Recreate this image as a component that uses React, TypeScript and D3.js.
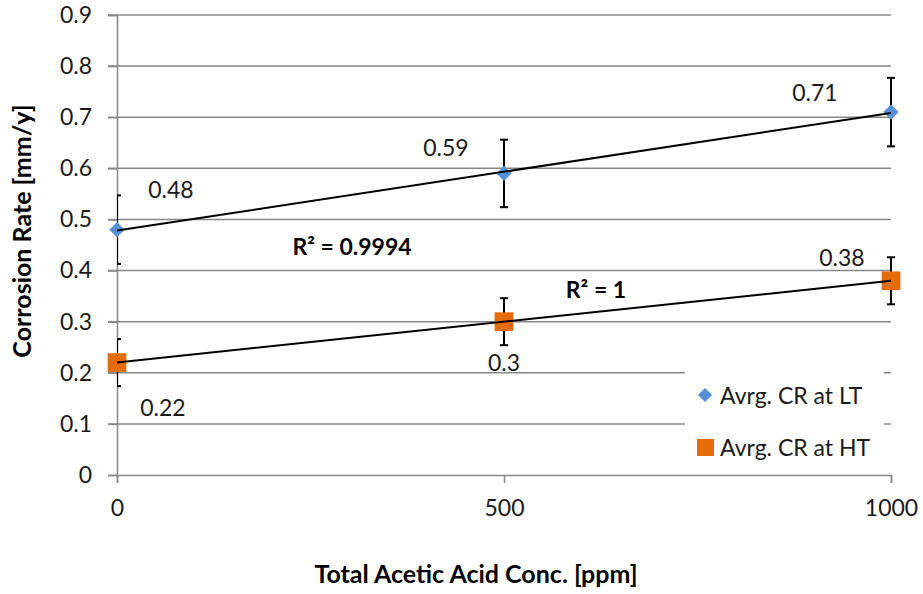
import React, { useEffect, useRef } from 'react';
import * as d3 from 'd3';

const concentrations = [0, 500, 1000];
const crLow = [0.48, 0.59, 0.71];
const crHigh = [0.22, 0.3, 0.38];
const errLow = [0.067, 0.066, 0.067];
const errHigh = [0.046, 0.046, 0.046];
const yTicks = [0, 0.1, 0.2, 0.3, 0.4, 0.5, 0.6, 0.7, 0.8, 0.9];
const xTicks = [0, 500, 1000];
const seriesNames = ['Avrg. CR at LT', 'Avrg. CR at HT'];

const FONT = 'Lato, "Liberation Sans", sans-serif';

const fitLine = (xs: number[], ys: number[]) => {
    const mx = d3.mean(xs) as number;
    const my = d3.mean(ys) as number;
    const num = d3.sum(xs.map((x, i) => (x - mx) * (ys[i] - my)));
    const den = d3.sum(xs.map(x => (x - mx) ** 2));
    const slope = num / den;
    return (x: number) => my + slope * (x - mx);
};

const App = () => {
    const ref = useRef<SVGSVGElement>(null);

    useEffect(() => {
        const svg = d3.select(ref.current);
        svg.selectAll('*').remove();

        const x = d3.scaleLinear().domain([0, 1000]).range([117, 891]);
        const y = d3.scaleLinear().domain([0, 0.9]).range([475, 15]);
        const grid = '#878787';

        // clip so the left error caps are cut at the axis like the original
        svg.append('defs').append('clipPath').attr('id', 'plotclip')
            .append('rect').attr('x', 117).attr('y', 0).attr('width', 806).attr('height', 594);

        // horizontal gridlines
        svg.append('g').selectAll('line')
            .data(yTicks.slice(1))
            .enter().append('line')
            .attr('x1', 108).attr('x2', 891)
            .attr('y1', d => y(d)).attr('y2', d => y(d))
            .attr('stroke', grid).attr('stroke-width', 1.5);

        // y axis
        const yAxis = d3.axisLeft(y).tickValues(yTicks).tickSize(9)
            .tickFormat(d => String(+d));
        const gy = svg.append('g').attr('transform', 'translate(117,0)').call(yAxis);
        gy.select('.domain').attr('stroke', grid).attr('stroke-width', 1.5);
        gy.selectAll('.tick line').attr('stroke', grid).attr('stroke-width', 1.5);
        gy.selectAll('.tick text').attr('font-family', FONT).attr('font-size', 23)
            .attr('fill', '#1a1a1a').attr('x', -25);

        // x axis
        const xAxis = d3.axisBottom(x).tickValues(xTicks).tickSize(8)
            .tickFormat(d => String(d));
        const gx = svg.append('g').attr('transform', 'translate(0,475)').call(xAxis);
        gx.select('.domain').attr('stroke', grid).attr('stroke-width', 1.5);
        gx.selectAll('.tick line').attr('stroke', grid).attr('stroke-width', 1.5);
        gx.selectAll('.tick text').attr('font-family', FONT).attr('font-size', 23)
            .attr('fill', '#1a1a1a').attr('y', 25);

        // legend box (white, hides gridlines behind it)
        const legend = svg.append('g');
        legend.append('rect').attr('x', 685).attr('y', 364).attr('width', 199).attr('height', 110)
            .attr('fill', '#fff');

        const clipped = svg.append('g').attr('clip-path', 'url(#plotclip)');
        const plot = svg.append('g');

        const series = [
            { vals: crLow, err: errLow, color: '#5690D8', shape: 'diamond' },
            { vals: crHigh, err: errHigh, color: '#E46C0A', shape: 'square' }
        ];

        series.forEach(s => {
            const f = fitLine(concentrations, s.vals);

            const eb = clipped.append('g').selectAll('g')
                .data(concentrations.map((c, i) => ({ c, v: s.vals[i], e: s.err[i] })))
                .enter().append('g');
            eb.append('line')
                .attr('x1', d => x(d.c)).attr('x2', d => x(d.c))
                .attr('y1', d => y(d.v + d.e)).attr('y2', d => y(d.v - d.e))
                .attr('stroke', '#000').attr('stroke-width', 2);
            [1, -1].forEach(sign => {
                eb.append('line')
                    .attr('x1', d => x(d.c) - 4).attr('x2', d => x(d.c) + 4)
                    .attr('y1', d => y(d.v + sign * d.e)).attr('y2', d => y(d.v + sign * d.e))
                    .attr('stroke', '#000').attr('stroke-width', 2);
            });

            const sym = s.shape === 'diamond'
                ? d3.symbol().type(d3.symbolDiamond2).size(150)
                : d3.symbol().type(d3.symbolSquare).size(350);
            plot.append('g').selectAll('path')
                .data(concentrations.map((c, i) => ({ c, v: s.vals[i] })))
                .enter().append('path')
                .attr('d', sym)
                .attr('transform', d => `translate(${x(d.c)},${y(d.v)})`)
                .attr('fill', s.color);

            // linear trendline on top of the markers
            plot.append('line')
                .attr('x1', x(0)).attr('x2', x(1000))
                .attr('y1', y(f(0))).attr('y2', y(f(1000)))
                .attr('stroke', '#000').attr('stroke-width', 2);
        });

        // data labels
        const labelPos = [
            [[54, -41], [-58, -26], [-76, -20]],
            [[46, 44], [0, 40], [-49, -24]]
        ];
        [crLow, crHigh].forEach((vals, si) => {
            svg.append('g').selectAll('text')
                .data(vals)
                .enter().append('text')
                .attr('x', (d, i) => x(concentrations[i]) + labelPos[si][i][0])
                .attr('y', (d, i) => y(d) + labelPos[si][i][1])
                .attr('text-anchor', 'middle').attr('dominant-baseline', 'central')
                .attr('font-family', FONT).attr('font-size', 23).attr('fill', '#1a1a1a')
                .text(d => String(d));
        });

        // R² labels
        svg.append('text').attr('x', 352).attr('y', 246)
            .attr('text-anchor', 'middle').attr('dominant-baseline', 'central')
            .attr('font-family', FONT).attr('font-size', 23).attr('font-weight', 'bold')
            .text('R² = 0.9994');
        svg.append('text').attr('x', 596).attr('y', 289)
            .attr('text-anchor', 'middle').attr('dominant-baseline', 'central')
            .attr('font-family', FONT).attr('font-size', 23).attr('font-weight', 'bold')
            .text('R² = 1');

        // legend entries
        legend.append('path').attr('d', d3.symbol().type(d3.symbolDiamond2).size(128))
            .attr('transform', 'translate(705,395)').attr('fill', '#5690D8');
        legend.append('rect').attr('x', 697).attr('y', 439).attr('width', 17).attr('height', 17)
            .attr('fill', '#E46C0A');
        legend.selectAll('text.lg')
            .data(seriesNames)
            .enter().append('text')
            .attr('class', 'lg')
            .attr('x', 720).attr('y', (d, i) => 395 + i * 52)
            .attr('dominant-baseline', 'central')
            .attr('font-family', FONT).attr('font-size', 23).attr('fill', '#1a1a1a')
            .text(d => d);

        // axis titles
        svg.append('text').attr('x', 476).attr('y', 583)
            .attr('text-anchor', 'middle')
            .attr('font-family', FONT).attr('font-size', 25).attr('font-weight', 'bold')
            .text('Total Acetic Acid Conc. [ppm]');
        svg.append('text')
            .attr('transform', 'translate(31,231) rotate(-90)')
            .attr('text-anchor', 'middle')
            .attr('font-family', FONT).attr('font-size', 25).attr('font-weight', 'bold')
            .text('Corrosion Rate [mm/y]');
    }, []);

    return (
        <svg ref={ref} width={923} height={594}
            style={{ position: 'absolute', left: 0, top: 0, background: '#fff' }} />
    );
};

export default App;
